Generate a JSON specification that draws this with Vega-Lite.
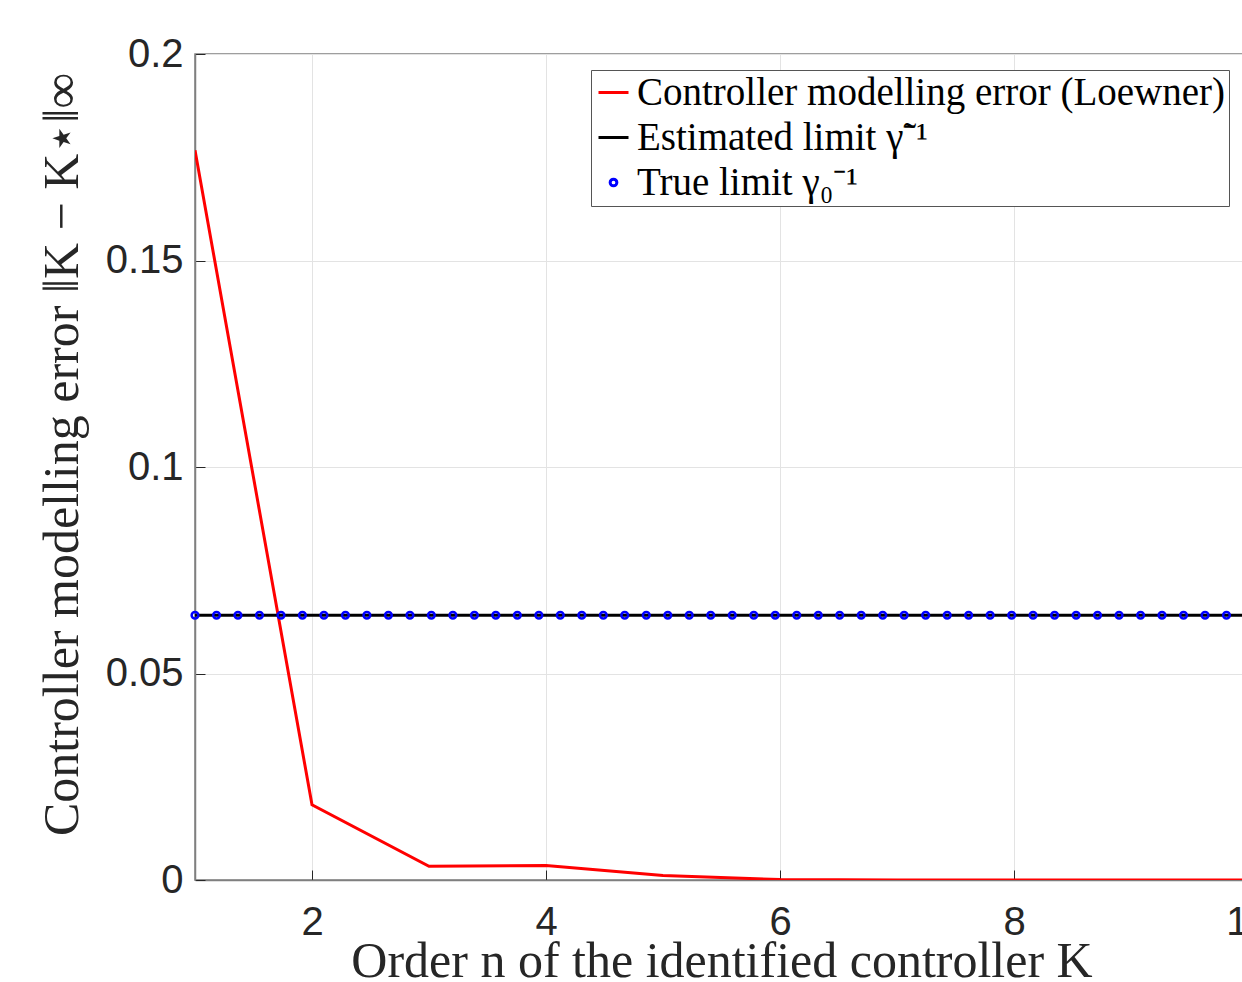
{
  "$schema": "https://vega.github.io/schema/vega-lite/v6.json",
  "width": 1053,
  "height": 826,
  "autosize": {"type": "none"},
  "padding": {"left": 195, "top": 54, "right": 0, "bottom": 102},
  "background": "white",
  "config": {
    "view": {"stroke": "#7f7f7f", "strokeWidth": 1.5},
    "axis": {
      "labelFont": "Liberation Sans",
      "labelFontSize": 40,
      "labelColor": "#262626",
      "labelFlush": false,
      "titleFont": "Liberation Serif",
      "titleFontSize": 50,
      "titleFontWeight": "normal",
      "titleColor": "#262626",
      "domainColor": "#7f7f7f",
      "domainWidth": 1.5,
      "tickColor": "#262626",
      "gridColor": "#e3e3e3",
      "gridWidth": 1
    }
  },
  "datasets": {
    "err": [
      {"n": 1, "e": 0.1767},
      {"n": 2, "e": 0.0182},
      {"n": 3, "e": 0.0033},
      {"n": 4, "e": 0.0035},
      {"n": 5, "e": 0.0011},
      {"n": 6, "e": 0.0001},
      {"n": 7, "e": 0.0},
      {"n": 8, "e": 0.0},
      {"n": 9, "e": 0.0},
      {"n": 10, "e": 0.0}
    ],
    "lim": [
      {"n": 1.0, "v": 0.0641, "s": "True limit γ₀⁻¹"},
      {"n": 1.184, "v": 0.0641, "s": "True limit γ₀⁻¹"},
      {"n": 1.367, "v": 0.0641, "s": "True limit γ₀⁻¹"},
      {"n": 1.551, "v": 0.0641, "s": "True limit γ₀⁻¹"},
      {"n": 1.735, "v": 0.0641, "s": "True limit γ₀⁻¹"},
      {"n": 1.918, "v": 0.0641, "s": "True limit γ₀⁻¹"},
      {"n": 2.102, "v": 0.0641, "s": "True limit γ₀⁻¹"},
      {"n": 2.286, "v": 0.0641, "s": "True limit γ₀⁻¹"},
      {"n": 2.469, "v": 0.0641, "s": "True limit γ₀⁻¹"},
      {"n": 2.653, "v": 0.0641, "s": "True limit γ₀⁻¹"},
      {"n": 2.837, "v": 0.0641, "s": "True limit γ₀⁻¹"},
      {"n": 3.02, "v": 0.0641, "s": "True limit γ₀⁻¹"},
      {"n": 3.204, "v": 0.0641, "s": "True limit γ₀⁻¹"},
      {"n": 3.388, "v": 0.0641, "s": "True limit γ₀⁻¹"},
      {"n": 3.571, "v": 0.0641, "s": "True limit γ₀⁻¹"},
      {"n": 3.755, "v": 0.0641, "s": "True limit γ₀⁻¹"},
      {"n": 3.939, "v": 0.0641, "s": "True limit γ₀⁻¹"},
      {"n": 4.122, "v": 0.0641, "s": "True limit γ₀⁻¹"},
      {"n": 4.306, "v": 0.0641, "s": "True limit γ₀⁻¹"},
      {"n": 4.49, "v": 0.0641, "s": "True limit γ₀⁻¹"},
      {"n": 4.673, "v": 0.0641, "s": "True limit γ₀⁻¹"},
      {"n": 4.857, "v": 0.0641, "s": "True limit γ₀⁻¹"},
      {"n": 5.041, "v": 0.0641, "s": "True limit γ₀⁻¹"},
      {"n": 5.224, "v": 0.0641, "s": "True limit γ₀⁻¹"},
      {"n": 5.408, "v": 0.0641, "s": "True limit γ₀⁻¹"},
      {"n": 5.592, "v": 0.0641, "s": "True limit γ₀⁻¹"},
      {"n": 5.776, "v": 0.0641, "s": "True limit γ₀⁻¹"},
      {"n": 5.959, "v": 0.0641, "s": "True limit γ₀⁻¹"},
      {"n": 6.143, "v": 0.0641, "s": "True limit γ₀⁻¹"},
      {"n": 6.327, "v": 0.0641, "s": "True limit γ₀⁻¹"},
      {"n": 6.51, "v": 0.0641, "s": "True limit γ₀⁻¹"},
      {"n": 6.694, "v": 0.0641, "s": "True limit γ₀⁻¹"},
      {"n": 6.878, "v": 0.0641, "s": "True limit γ₀⁻¹"},
      {"n": 7.061, "v": 0.0641, "s": "True limit γ₀⁻¹"},
      {"n": 7.245, "v": 0.0641, "s": "True limit γ₀⁻¹"},
      {"n": 7.429, "v": 0.0641, "s": "True limit γ₀⁻¹"},
      {"n": 7.612, "v": 0.0641, "s": "True limit γ₀⁻¹"},
      {"n": 7.796, "v": 0.0641, "s": "True limit γ₀⁻¹"},
      {"n": 7.98, "v": 0.0641, "s": "True limit γ₀⁻¹"},
      {"n": 8.163, "v": 0.0641, "s": "True limit γ₀⁻¹"},
      {"n": 8.347, "v": 0.0641, "s": "True limit γ₀⁻¹"},
      {"n": 8.531, "v": 0.0641, "s": "True limit γ₀⁻¹"},
      {"n": 8.714, "v": 0.0641, "s": "True limit γ₀⁻¹"},
      {"n": 8.898, "v": 0.0641, "s": "True limit γ₀⁻¹"},
      {"n": 9.082, "v": 0.0641, "s": "True limit γ₀⁻¹"},
      {"n": 9.265, "v": 0.0641, "s": "True limit γ₀⁻¹"},
      {"n": 9.449, "v": 0.0641, "s": "True limit γ₀⁻¹"},
      {"n": 9.633, "v": 0.0641, "s": "True limit γ₀⁻¹"},
      {"n": 9.816, "v": 0.0641, "s": "True limit γ₀⁻¹"},
      {"n": 10.0, "v": 0.0641, "s": "True limit γ₀⁻¹"}
    ]
  },
  "layer": [
    {
      "data": {"name": "err"},
      "mark": {"type": "line", "color": "#ff0000", "strokeWidth": 3, "clip": true},
      "encoding": {
        "x": {
          "field": "n", "type": "quantitative",
          "scale": {"domain": [1, 10], "nice": false, "zero": false},
          "axis": {
            "values": [2, 4, 6, 8, 10],
            "format": "d",
            "title": "Order n of the identified controller K",
            "tickSize": -10,
            "labelPadding": 32,
            "titlePadding": -6,
            "grid": true
          }
        },
        "y": {
          "field": "e", "type": "quantitative",
          "scale": {"domain": [0, 0.2], "nice": false},
          "axis": {
            "values": [0, 0.05, 0.1, 0.15, 0.2],
            "format": "~g",
            "title": "Controller modelling error ‖K − K⋆‖∞",
            "titleY": 400,
            "tickSize": -10,
            "labelPadding": 22,
            "titlePadding": 18,
            "grid": true
          }
        }
      }
    },
    {
      "data": {"name": "lim"},
      "mark": {"type": "line", "color": "#000000", "strokeWidth": 3, "clip": true},
      "encoding": {
        "x": {"field": "n", "type": "quantitative"},
        "y": {"field": "v", "type": "quantitative"}
      }
    },
    {
      "data": {"name": "lim"},
      "mark": {"type": "point", "filled": false, "strokeWidth": 2.5, "opacity": 1, "clip": false},
      "encoding": {
        "x": {"field": "n", "type": "quantitative"},
        "y": {"field": "v", "type": "quantitative"},
        "color": {
          "field": "s", "type": "nominal",
          "scale": {
            "domain": ["Controller modelling error (Loewner)", "Estimated limit γ̃⁻¹", "True limit γ₀⁻¹"],
            "range": ["#ff0000", "#000000", "#0000ff"]
          },
          "legend": {
            "title": null,
            "orient": "none",
            "legendX": 396,
            "legendY": 16,
            "labelFont": "Liberation Serif",
            "labelFontSize": 39,
            "labelColor": "#000000",
            "labelLimit": 0,
            "labelOffset": 4,
            "rowPadding": 5,
            "padding": 3,
            "fillColor": "white",
            "strokeColor": "#555555",
            "symbolStrokeWidth": 3
          }
        },
        "shape": {
          "field": "s", "type": "nominal",
          "scale": {
            "domain": ["Controller modelling error (Loewner)", "Estimated limit γ̃⁻¹", "True limit γ₀⁻¹"],
            "range": ["stroke", "stroke", "circle"]
          }
        },
        "size": {
          "field": "s", "type": "nominal",
          "scale": {
            "type": "ordinal",
            "domain": ["Controller modelling error (Loewner)", "Estimated limit γ̃⁻¹", "True limit γ₀⁻¹"],
            "range": [900, 900, 45]
          }
        }
      }
    }
  ]
}
